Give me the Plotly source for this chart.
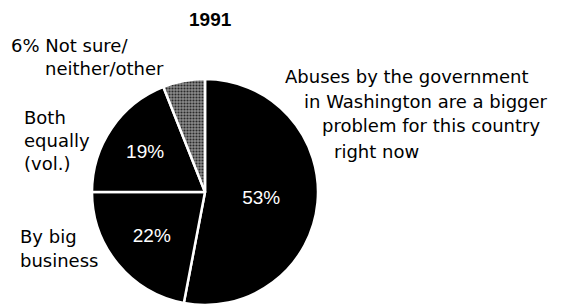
import plotly.graph_objects as go

# ---- data ----
categories = [
    "Abuses by the government in Washington",
    "By big business",
    "Both equally (vol.)",
    "Not sure/neither/other",
]
values = [53, 22, 19, 6]
inside_text = ["53%", "22%", "19%", ""]
slice_colors = ["#000000", "#000000", "#000000", "#7a7a7a"]
slice_patterns = ["", "", "", "."]
title_text = "1991"

# outside label lines: (text, left x px, center y px)
label_lines = [
    ("6% Not sure/", 9, 45.5),
    ("neither/other", 43, 68.5),
    ("Abuses by the government", 283, 77),
    ("in Washington are a bigger", 302, 101.5),
    ("problem for this country", 320, 126),
    ("right now", 332, 151.5),
    ("Both", 22, 117.5),
    ("equally", 22, 140.5),
    ("(vol.)", 22, 163.5),
    ("By big", 18, 236.5),
    ("business", 18, 260.5),
]

W, H = 563, 305
cx, cy, r = 205, 192, 113

fig = go.Figure(
    go.Pie(
        labels=categories,
        values=values,
        text=inside_text,
        textinfo="text",
        textposition="inside",
        insidetextorientation="horizontal",
        sort=False,
        direction="clockwise",
        rotation=0,
        marker=dict(
            colors=slice_colors,
            line=dict(color="white", width=2.5),
            pattern=dict(
                shape=slice_patterns,
                fgcolor="#2a2a2a",
                bgcolor="#8c8c8c",
                size=3,
                solidity=0.4,
            ),
        ),
        textfont=dict(family="Liberation Sans", size=19, color="white"),
        domain=dict(x=[(cx - r) / W, (cx + r) / W], y=[(H - cy - r) / H, (H - cy + r) / H]),
        showlegend=False,
        hoverinfo="label+percent",
    )
)

annotations = [
    dict(
        text="<b>" + title_text + "</b>",
        x=210 / W, y=1 - 20 / H, xref="paper", yref="paper",
        xanchor="center", yanchor="middle", showarrow=False,
        font=dict(family="Liberation Sans", size=19, color="black"),
    )
]
for txt, lx, ly in label_lines:
    annotations.append(
        dict(
            text=txt, x=lx / W, y=1 - ly / H, xref="paper", yref="paper",
            xanchor="left", yanchor="middle", showarrow=False,
            font=dict(family="DejaVu Sans", size=18, color="black"),
        )
    )

fig.update_layout(
    width=W, height=H,
    margin=dict(l=0, r=0, t=0, b=0),
    paper_bgcolor="white",
    plot_bgcolor="white",
    annotations=annotations,
)

fig.write_html(
    "out.html",
    config={"displayModeBar": False},
    post_script="document.body.style.margin='0';document.body.style.overflow='hidden';",
)
